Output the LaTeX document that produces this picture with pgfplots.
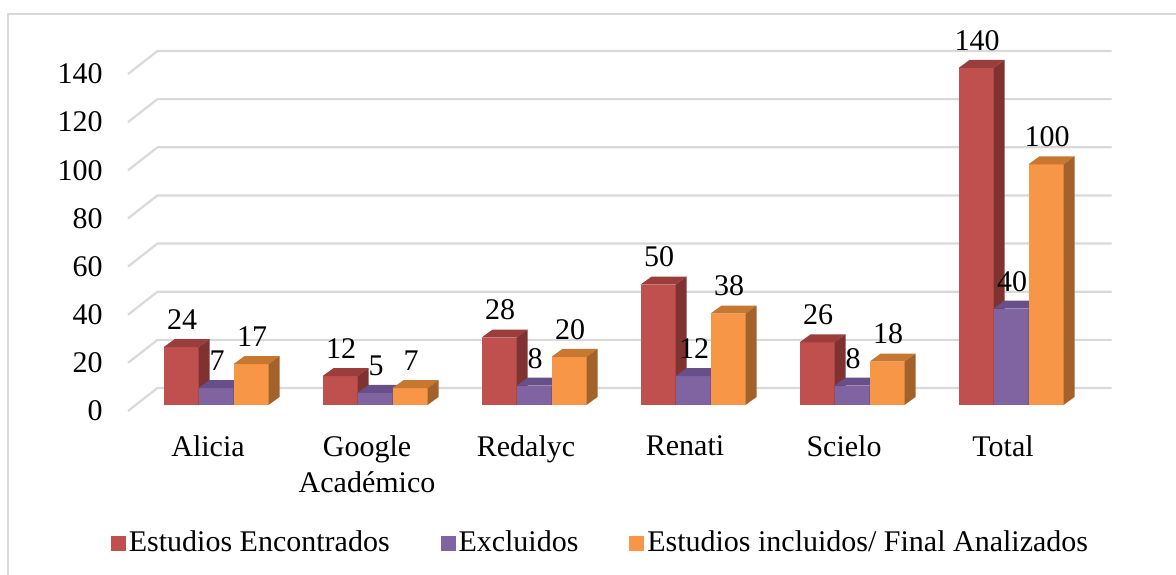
\documentclass[border=0pt]{standalone}
\usepackage{pgfplots}
\pgfplotsset{compat=1.18}
\usepackage{pgfplotstable}
\usepackage{fontspec}
\setmainfont{Liberation Serif}

\definecolor{redF}{HTML}{C0504D}
\definecolor{redT}{HTML}{9B3E3B}
\definecolor{redS}{HTML}{803230}
\definecolor{purF}{HTML}{8064A2}
\definecolor{purT}{HTML}{67508A}
\definecolor{purS}{HTML}{54426E}
\definecolor{oraF}{HTML}{F79646}
\definecolor{oraT}{HTML}{C8772F}
\definecolor{oraS}{HTML}{A3622A}
\definecolor{gridc}{HTML}{D9D9D9}

\pgfplotstableread{
cat enc exc inc
0 24 7 17
1 12 5 7
2 28 8 20
3 50 12 38
4 26 8 18
5 140 40 100
}\datatab

% y unit (pt per data unit)
\def\yu{1.2036}
\newcommand\defbarmark[4]{%
  \pgfdeclareplotmark{#1}{%
    \pgfmathsetmacro{\hpt}{\hv*\yu}%
    \pgfsetfillcolor{#2}%
    \pgfpathrectangle{\pgfpoint{-8.75pt}{-\hpt pt}}{\pgfpoint{17.5pt}{\hpt pt}}%
    \pgfusepath{fill}%
    \pgfsetfillcolor{#3}%
    \pgfpathmoveto{\pgfpoint{-8.75pt}{0pt}}%
    \pgfpathlineto{\pgfpoint{8.75pt}{0pt}}%
    \pgfpathlineto{\pgfpoint{14.25pt}{4pt}}%
    \pgfpathlineto{\pgfpoint{-3.25pt}{4pt}}%
    \pgfpathclose\pgfusepath{fill}%
    \pgfsetfillcolor{#4}%
    \pgfpathmoveto{\pgfpoint{8.75pt}{0pt}}%
    \pgfpathlineto{\pgfpoint{8.75pt}{-\hpt pt}}%
    \pgfpathlineto{\pgfpoint{14.25pt}{-\hpt pt+4pt}}%
    \pgfpathlineto{\pgfpoint{14.25pt}{4pt}}%
    \pgfpathclose\pgfusepath{fill}%
  }}
\defbarmark{barred}{redF}{redT}{redS}
\defbarmark{barpur}{purF}{purT}{purS}
\defbarmark{barora}{oraF}{oraT}{oraS}

\pgfplotsset{
  bar3d/.style={%
    only marks, mark=#1,
    visualization depends on={y \as \hv},
    nodes near coords,
    nodes near coords style={anchor=south, inner sep=0pt, yshift=8.5pt, xshift=0.5pt, text=black},
  }
}

\begin{document}
\fontsize{15}{18}\selectfont
\begin{tikzpicture}[x=1pt,y=1pt]
\useasboundingbox (0,0) rectangle (588,287);
\draw[gridc, line width=0.9pt] (4,-5) -- (4,280) -- (600,280);
\begin{axis}[
  at={(68.25pt,84.5pt)}, anchor=south west,
  x=79.5pt, y=\yu pt,
  xmin=-0.5, xmax=5.5, ymin=0, ymax=140,
  clip=false,
  axis line style={draw=none},
  tick style={draw=none},
  major tick length=0pt,
  xtick={0,...,5},
  xticklabels={Alicia,{Google\\Académico},Redalyc,Renati,Scielo,Total},
  xticklabel style={align=center, anchor=north, inner sep=0pt, yshift=-15pt, xshift=-4pt},
  ytick={0,20,...,140},
  yticklabel style={anchor=east, inner sep=0pt, xshift=-16.75pt, yshift=-3pt},
  /pgf/number format/assume math mode=true,
  legend columns=3,
  legend style={draw=none, fill=none, at={(0.487,-0.4095)}, anchor=center,
    /tikz/every even column/.append style={column sep=24pt},
    nodes={inner sep=1.5pt}},
]
\pgfplotsinvokeforeach{0,20,...,140}{
  \draw[gridc, line width=1.1pt]
    ([shift={(-4.25pt,-3pt)}]axis cs:-0.5,#1) --
    ([shift={(10.5pt,8.5pt)}]axis cs:-0.5,#1) --
    ([shift={(10.5pt,8.5pt)}]axis cs:5.5,#1);
}
\addplot[bar3d=barred,
  legend image code/.code={\fill[redF] (0pt,-3.5pt) rectangle (7pt,3.5pt);}]
  table[x expr=\thisrow{cat}-0.2201, y=enc] {\datatab};
\addlegendentry{Estudios Encontrados}
\addplot[bar3d=barpur,
  legend image code/.code={\fill[purF] (0pt,-3.5pt) rectangle (7pt,3.5pt);}]
  table[x expr=\thisrow{cat}, y=exc] {\datatab};
\addlegendentry{Excluidos}
\addplot[bar3d=barora,
  legend image code/.code={\fill[oraF] (0pt,-3.5pt) rectangle (7pt,3.5pt);}]
  table[x expr=\thisrow{cat}+0.2201, y=inc] {\datatab};
\addlegendentry{Estudios incluidos/ Final Analizados}
\end{axis}
\end{tikzpicture}
\end{document}
